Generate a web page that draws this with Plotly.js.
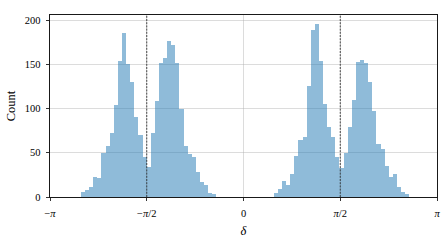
<!DOCTYPE html>
<html>
<head>
<meta charset="utf-8">
<script src="https://cdn.plot.ly/plotly-3.0.1.min.js"></script>
<style>html,body{margin:0;padding:0;background:#fff;}#chart{width:446px;height:241px;}</style>
</head>
<body>
<div id="chart"></div>
<script>
// Histogram: 80 equal bins between binStart and binEnd (radians)
const binStart = -2.639;
const binEnd = 2.691;
const counts = [
  6, 8, 11, 23, 22, 50, 58, 72, 104, 154, 186, 150, 130, 90, 70, 45, 34,
  72, 108, 152, 157, 176, 172, 151, 100, 58, 49, 45, 28, 17, 14, 5, 3,
  0, 0, 0, 0, 0, 0, 0, 0, 0, 0, 0, 0, 0, 0,
  4, 9, 18, 14, 26, 46, 64, 68, 125, 189, 196, 154, 105, 79, 68, 45, 33,
  50, 79, 110, 153, 155, 151, 130, 97, 60, 54, 35, 23, 26, 11, 6, 3
];
const tickVals = [-Math.PI, -Math.PI / 2, 0, Math.PI / 2, Math.PI];
const tickText = ["\u2212<i>\u03c0</i>", "\u2212<i>\u03c0</i>/2", "0", "<i>\u03c0</i>/2", "<i>\u03c0</i>"];
const yTicks = [0, 50, 100, 150, 200];
const refLines = [-Math.PI / 2, Math.PI / 2];

const nBins = counts.length;
const binW = (binEnd - binStart) / nBins;
const centers = counts.map((_, i) => binStart + (i + 0.5) * binW);

const font = "'Liberation Serif', 'DejaVu Serif', serif";

const trace = {
  type: 'bar',
  x: centers,
  y: counts,
  width: binW,
  marker: {color: 'rgba(31,119,180,0.5)', line: {width: 0}},
  hoverinfo: 'x+y'
};

const layout = {
  width: 446, height: 241,
  margin: {l: 50, r: 9, t: 15, b: 44},
  paper_bgcolor: '#fff', plot_bgcolor: '#fff',
  font: {family: font, size: 10.5, color: '#000'},
  showlegend: false,
  bargap: 0,
  xaxis: {
    range: [-Math.PI, Math.PI],
    tickvals: tickVals, ticktext: tickText,
    ticks: 'outside', ticklen: 3.5, tickwidth: 0.8, tickcolor: '#000',
    ticklabelstandoff: 3,
    showline: true, mirror: true, linecolor: '#000', linewidth: 0.9,
    showgrid: true, gridcolor: 'rgba(176,176,176,0.55)', gridwidth: 0.8,
    zeroline: false,
    tickfont: {family: font, size: 10.5},
    title: {text: '<i>\u03b4</i>', font: {family: font, size: 12.5}, standoff: 8}
  },
  yaxis: {
    range: [0, 205.8],
    tickvals: yTicks,
    ticks: 'outside', ticklen: 3.5, tickwidth: 0.8, tickcolor: '#000',
    ticklabelstandoff: 3,
    showline: true, mirror: true, linecolor: '#000', linewidth: 0.9,
    showgrid: true, gridcolor: 'rgba(176,176,176,0.55)', gridwidth: 0.8,
    zeroline: false,
    tickfont: {family: font, size: 10.5},
    title: {text: 'Count', font: {family: font, size: 12.5}, standoff: 6}
  },
  shapes: refLines.map(v => ({
    type: 'line', xref: 'x', yref: 'paper', x0: v, x1: v, y0: 0, y1: 1,
    layer: 'above',
    line: {color: '#333', width: 0.9, dash: '2px,1.2px'}
  }))
};

Plotly.newPlot('chart', [trace], layout, {displayModeBar: false, staticPlot: true});
</script>
</body>
</html>
